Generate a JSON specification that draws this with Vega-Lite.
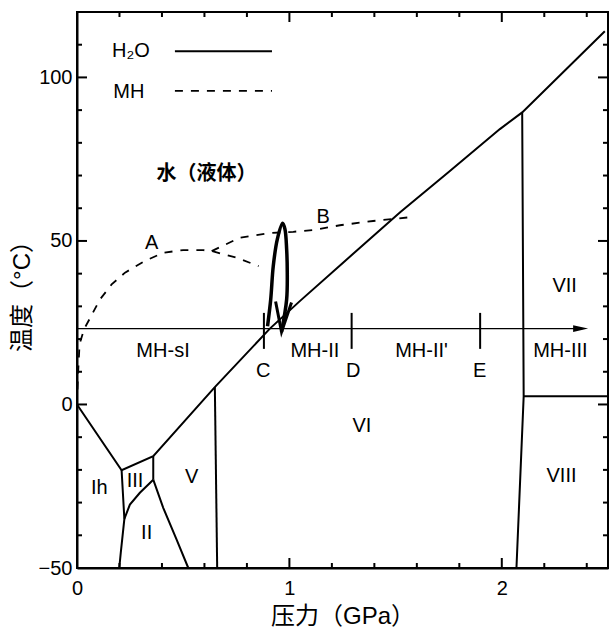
{
  "$schema": "https://vega.github.io/schema/vega-lite/v6.json",
  "width": 531,
  "height": 556,
  "autosize": {"type": "none"},
  "padding": {"left": 77, "top": 12, "right": 1, "bottom": 62},
  "background": "white",
  "config": {
    "view": {"stroke": "black", "strokeWidth": 2},
    "axis": {
      "grid": false,
      "domainColor": "black",
      "domainWidth": 2,
      "ticks": false,
      "labelFlush": false,
      "labelColor": "black",
      "labelFont": "Liberation Sans",
      "labelFontSize": 20,
      "titleColor": "black",
      "titleFont": "Liberation Sans, Noto Sans CJK SC",
      "titleFontSize": 24,
      "titleFontWeight": "normal"
    }
  },
  "datasets": {
    "phase": [
      {"s": "melt", "i": 0, "p": 0, "t": 0},
      {"s": "melt", "i": 1, "p": 0.21, "t": -20.1},
      {"s": "melt", "i": 2, "p": 0.359, "t": -15.8},
      {"s": "melt", "i": 3, "p": 0.649, "t": 5.3},
      {"s": "melt", "i": 4, "p": 0.908, "t": 23.2},
      {"s": "melt", "i": 5, "p": 1.049, "t": 31.6},
      {"s": "melt", "i": 6, "p": 1.25, "t": 43.2},
      {"s": "melt", "i": 7, "p": 1.52, "t": 58.7},
      {"s": "melt", "i": 8, "p": 1.75, "t": 71.1},
      {"s": "melt", "i": 9, "p": 1.991, "t": 84.2},
      {"s": "melt", "i": 10, "p": 2.096, "t": 89.3},
      {"s": "melt", "i": 11, "p": 2.485, "t": 114.1},
      {"s": "Ih-III-II", "i": 0, "p": 0.21, "t": -20.1},
      {"s": "Ih-III-II", "i": 1, "p": 0.223, "t": -35},
      {"s": "Ih-III-II", "i": 2, "p": 0.206, "t": -45.4},
      {"s": "Ih-III-II", "i": 3, "p": 0.199, "t": -50},
      {"s": "III-II", "i": 0, "p": 0.223, "t": -35},
      {"s": "III-II", "i": 1, "p": 0.249, "t": -30.6},
      {"s": "III-II", "i": 2, "p": 0.296, "t": -27.0},
      {"s": "III-II", "i": 3, "p": 0.359, "t": -23.0},
      {"s": "III-V", "i": 0, "p": 0.359, "t": -15.8},
      {"s": "III-V", "i": 1, "p": 0.359, "t": -23.0},
      {"s": "II-V", "i": 0, "p": 0.359, "t": -23.0},
      {"s": "II-V", "i": 1, "p": 0.406, "t": -31.6},
      {"s": "II-V", "i": 2, "p": 0.469, "t": -41.3},
      {"s": "II-V", "i": 3, "p": 0.524, "t": -50},
      {"s": "V-VI", "i": 0, "p": 0.649, "t": 5.3},
      {"s": "V-VI", "i": 1, "p": 0.66, "t": -50},
      {"s": "VI-VII-VIII", "i": 0, "p": 2.096, "t": 89.3},
      {"s": "VI-VII-VIII", "i": 1, "p": 2.103, "t": 2.5},
      {"s": "VI-VII-VIII", "i": 2, "p": 2.069, "t": -50},
      {"s": "VII-VIII", "i": 0, "p": 2.103, "t": 2.5},
      {"s": "VII-VIII", "i": 1, "p": 2.5, "t": 2.5}
    ],
    "mh": [
      {"s": "A", "i": 0, "p": 0.002, "t": 4.6},
      {"s": "A", "i": 1, "p": 0.006, "t": 10.7},
      {"s": "A", "i": 2, "p": 0.012, "t": 18.4},
      {"s": "A", "i": 3, "p": 0.033, "t": 23.0},
      {"s": "A", "i": 4, "p": 0.058, "t": 26.0},
      {"s": "A", "i": 5, "p": 0.108, "t": 32.1},
      {"s": "A", "i": 6, "p": 0.163, "t": 36.7},
      {"s": "A", "i": 7, "p": 0.226, "t": 40.3},
      {"s": "A", "i": 8, "p": 0.32, "t": 43.9},
      {"s": "A", "i": 9, "p": 0.406, "t": 46.4},
      {"s": "A", "i": 10, "p": 0.5, "t": 47.2},
      {"s": "A", "i": 11, "p": 0.594, "t": 47.2},
      {"s": "A", "i": 12, "p": 0.634, "t": 46.9},
      {"s": "A", "i": 13, "p": 0.751, "t": 44.9},
      {"s": "A", "i": 14, "p": 0.855, "t": 42.3},
      {"s": "B", "i": 0, "p": 0.634, "t": 46.9},
      {"s": "B", "i": 1, "p": 0.767, "t": 51.0},
      {"s": "B", "i": 2, "p": 0.908, "t": 52.4},
      {"s": "B", "i": 3, "p": 1.018, "t": 52.8},
      {"s": "B", "i": 4, "p": 1.12, "t": 53.4},
      {"s": "B", "i": 5, "p": 1.238, "t": 54.8},
      {"s": "B", "i": 6, "p": 1.394, "t": 56.1},
      {"s": "B", "i": 7, "p": 1.575, "t": 57.3}
    ],
    "loop": [
      {"i": 0, "p": 0.897, "t": 23.9},
      {"i": 1, "p": 0.912, "t": 32.1},
      {"i": 2, "p": 0.924, "t": 42.3},
      {"i": 3, "p": 0.943, "t": 50.5},
      {"i": 4, "p": 0.968, "t": 55.4},
      {"i": 5, "p": 0.979, "t": 53.6},
      {"i": 6, "p": 0.987, "t": 47.5},
      {"i": 7, "p": 0.99, "t": 40.3},
      {"i": 8, "p": 0.987, "t": 32.1},
      {"i": 9, "p": 0.963, "t": 22.2}
    ],
    "barb": [
      {"i": 0, "p": 0.935, "t": 31.5},
      {"i": 1, "p": 0.963, "t": 22.2},
      {"i": 2, "p": 1.01, "t": 31.2}
    ],
    "scan": [{"p": 0, "p2": 2.38, "t": 23.2}],
    "scanHead": [{"p": 2.371, "t": 23.2}],
    "stops": [
      {"pt": "C", "p": 0.88, "t": 17, "t2": 28},
      {"pt": "D", "p": 1.293, "t": 17, "t2": 28},
      {"pt": "E", "p": 1.898, "t": 17, "t2": 28}
    ],
    "labels": [
      {"txt": "A", "p": 0.351, "t": 49.5},
      {"txt": "B", "p": 1.159, "t": 57.2},
      {"txt": "MH-sI", "p": 0.405, "t": 16.2},
      {"txt": "C", "p": 0.877, "t": 10.2},
      {"txt": "MH-II", "p": 1.12, "t": 16.2},
      {"txt": "D", "p": 1.3, "t": 10.2},
      {"txt": "MH-II'", "p": 1.622, "t": 16.2},
      {"txt": "E", "p": 1.896, "t": 10.2},
      {"txt": "MH-III", "p": 2.276, "t": 16.2},
      {"txt": "VI", "p": 1.341, "t": -6.7},
      {"txt": "VII", "p": 2.296, "t": 36.1},
      {"txt": "VIII", "p": 2.281, "t": -22.0},
      {"txt": "V", "p": 0.54, "t": -22.1},
      {"txt": "Ih", "p": 0.105, "t": -25.4},
      {"txt": "III", "p": 0.273, "t": -23.5},
      {"txt": "II", "p": 0.328, "t": -39.3}
    ],
    "liquid": [{"txt": "水（液体）", "p": 0.61, "t": 70.4}],
    "keyText": [
      {"txt": "H₂O", "p": 0.165, "t": 108.0},
      {"txt": "MH", "p": 0.171, "t": 95.5}
    ],
    "keyLine": [
      {"k": "H₂O", "p": 0.461, "p2": 0.918, "t": 108.0},
      {"k": "MH", "p": 0.461, "p2": 0.918, "t": 95.9}
    ],
    "xMajor": [{"p": 1}, {"p": 2}],
    "xMinor": [{"p": 0.2}, {"p": 0.4}, {"p": 0.6}, {"p": 0.8}, {"p": 1.2}, {"p": 1.4}, {"p": 1.6}, {"p": 1.8}, {"p": 2.2}, {"p": 2.4}],
    "yMajor": [{"t": 0}, {"t": 50}, {"t": 100}],
    "yMinor": [{"t": -40}, {"t": -30}, {"t": -20}, {"t": -10}, {"t": 10}, {"t": 20}, {"t": 30}, {"t": 40}, {"t": 60}, {"t": 70}, {"t": 80}, {"t": 90}, {"t": 110}]
  },
  "resolve": {"axis": {"x": "independent", "y": "independent"}},
  "layer": [
    {
      "data": {"name": "phase"},
      "mark": {"type": "line", "color": "black", "strokeWidth": 2},
      "encoding": {
        "x": {"field": "p", "type": "quantitative", "scale": {"domain": [0, 2.5], "nice": false, "zero": false},
          "axis": {"orient": "bottom", "values": [0, 1, 2], "format": "d", "labelPadding": 10.5, "title": "压力（GPa）", "titlePadding": 6}},
        "y": {"field": "t", "type": "quantitative", "scale": {"domain": [-50, 120], "nice": false, "zero": false},
          "axis": {"orient": "left", "values": [-50, 0, 50, 100], "format": "d", "labelPadding": 5, "title": "温度（°C）", "titlePadding": 4}},
        "detail": {"field": "s"},
        "order": {"field": "i", "type": "quantitative"}
      }
    },
    {
      "data": {"name": "xMajor"},
      "mark": {"type": "rule", "color": "black", "strokeWidth": 2, "y2Offset": -10},
      "encoding": {
        "x": {"field": "p", "type": "quantitative", "scale": {"domain": [0, 2.5], "nice": false, "zero": false}, "axis": null},
        "y": {"datum": -50, "type": "quantitative", "scale": {"domain": [-50, 120], "nice": false, "zero": false}, "axis": null},
        "y2": {"datum": -50}
      }
    },
    {
      "data": {"name": "xMinor"},
      "mark": {"type": "rule", "color": "black", "strokeWidth": 2, "y2Offset": -5},
      "encoding": {
        "x": {"field": "p", "type": "quantitative", "scale": {"domain": [0, 2.5], "nice": false, "zero": false}, "axis": null},
        "y": {"datum": -50, "type": "quantitative", "scale": {"domain": [-50, 120], "nice": false, "zero": false}, "axis": null},
        "y2": {"datum": -50}
      }
    },
    {
      "data": {"name": "xMajor"},
      "mark": {"type": "rule", "color": "black", "strokeWidth": 2, "y2Offset": 10},
      "encoding": {
        "x": {"field": "p", "type": "quantitative", "scale": {"domain": [0, 2.5], "nice": false, "zero": false}, "axis": null},
        "y": {"datum": 120, "type": "quantitative", "scale": {"domain": [-50, 120], "nice": false, "zero": false}, "axis": null},
        "y2": {"datum": 120}
      }
    },
    {
      "data": {"name": "xMinor"},
      "mark": {"type": "rule", "color": "black", "strokeWidth": 2, "y2Offset": 5},
      "encoding": {
        "x": {"field": "p", "type": "quantitative", "scale": {"domain": [0, 2.5], "nice": false, "zero": false}, "axis": null},
        "y": {"datum": 120, "type": "quantitative", "scale": {"domain": [-50, 120], "nice": false, "zero": false}, "axis": null},
        "y2": {"datum": 120}
      }
    },
    {
      "data": {"name": "yMajor"},
      "mark": {"type": "rule", "color": "black", "strokeWidth": 2, "x2Offset": 10},
      "encoding": {
        "y": {"field": "t", "type": "quantitative", "scale": {"domain": [-50, 120], "nice": false, "zero": false}, "axis": null},
        "x": {"datum": 0, "type": "quantitative", "scale": {"domain": [0, 2.5], "nice": false, "zero": false}, "axis": null},
        "x2": {"datum": 0}
      }
    },
    {
      "data": {"name": "yMinor"},
      "mark": {"type": "rule", "color": "black", "strokeWidth": 2, "x2Offset": 5},
      "encoding": {
        "y": {"field": "t", "type": "quantitative", "scale": {"domain": [-50, 120], "nice": false, "zero": false}, "axis": null},
        "x": {"datum": 0, "type": "quantitative", "scale": {"domain": [0, 2.5], "nice": false, "zero": false}, "axis": null},
        "x2": {"datum": 0}
      }
    },
    {
      "data": {"name": "yMajor"},
      "mark": {"type": "rule", "color": "black", "strokeWidth": 2, "x2Offset": -10},
      "encoding": {
        "y": {"field": "t", "type": "quantitative", "scale": {"domain": [-50, 120], "nice": false, "zero": false}, "axis": null},
        "x": {"datum": 2.5, "type": "quantitative", "scale": {"domain": [0, 2.5], "nice": false, "zero": false}, "axis": null},
        "x2": {"datum": 2.5}
      }
    },
    {
      "data": {"name": "yMinor"},
      "mark": {"type": "rule", "color": "black", "strokeWidth": 2, "x2Offset": -5},
      "encoding": {
        "y": {"field": "t", "type": "quantitative", "scale": {"domain": [-50, 120], "nice": false, "zero": false}, "axis": null},
        "x": {"datum": 2.5, "type": "quantitative", "scale": {"domain": [0, 2.5], "nice": false, "zero": false}, "axis": null},
        "x2": {"datum": 2.5}
      }
    },
    {
      "data": {"name": "mh"},
      "mark": {"type": "line", "color": "black", "strokeWidth": 1.8, "strokeDash": [8, 8]},
      "encoding": {
        "x": {"field": "p", "type": "quantitative", "axis": null},
        "y": {"field": "t", "type": "quantitative", "axis": null},
        "detail": {"field": "s"},
        "order": {"field": "i", "type": "quantitative"}
      }
    },
    {
      "data": {"name": "loop"},
      "mark": {"type": "line", "color": "black", "strokeWidth": 3.5, "interpolate": "catmull-rom"},
      "encoding": {
        "x": {"field": "p", "type": "quantitative", "axis": null},
        "y": {"field": "t", "type": "quantitative", "axis": null},
        "order": {"field": "i", "type": "quantitative"}
      }
    },
    {
      "data": {"name": "barb"},
      "mark": {"type": "line", "color": "black", "strokeWidth": 3, "strokeJoin": "miter"},
      "encoding": {
        "x": {"field": "p", "type": "quantitative", "axis": null},
        "y": {"field": "t", "type": "quantitative", "axis": null},
        "order": {"field": "i", "type": "quantitative"}
      }
    },
    {
      "data": {"name": "scan"},
      "mark": {"type": "rule", "color": "black", "strokeWidth": 1.3},
      "encoding": {
        "x": {"field": "p", "type": "quantitative", "axis": null},
        "x2": {"field": "p2"},
        "y": {"field": "t", "type": "quantitative", "axis": null}
      }
    },
    {
      "data": {"name": "scanHead"},
      "mark": {"type": "point", "shape": "M -1 -0.45 L 1 0 L -1 0.45 Z", "filled": true, "size": 225, "color": "black", "opacity": 1},
      "encoding": {
        "x": {"field": "p", "type": "quantitative", "axis": null},
        "y": {"field": "t", "type": "quantitative", "axis": null}
      }
    },
    {
      "data": {"name": "stops"},
      "mark": {"type": "rule", "color": "black", "strokeWidth": 2},
      "encoding": {
        "x": {"field": "p", "type": "quantitative", "axis": null},
        "y": {"field": "t", "type": "quantitative", "axis": null},
        "y2": {"field": "t2"}
      }
    },
    {
      "data": {"name": "keyLine"},
      "mark": {"type": "rule", "color": "black", "strokeWidth": 1.8},
      "encoding": {
        "x": {"field": "p", "type": "quantitative", "axis": null},
        "x2": {"field": "p2"},
        "y": {"field": "t", "type": "quantitative", "axis": null},
        "strokeDash": {"field": "k", "type": "nominal", "scale": {"domain": ["H₂O", "MH"], "range": [[1, 0], [8, 8]]}, "legend": null}
      }
    },
    {
      "data": {"name": "labels"},
      "mark": {"type": "text", "font": "Liberation Sans", "fontSize": 20, "color": "black", "align": "center", "baseline": "middle"},
      "encoding": {
        "x": {"field": "p", "type": "quantitative", "axis": null},
        "y": {"field": "t", "type": "quantitative", "axis": null},
        "text": {"field": "txt"}
      }
    },
    {
      "data": {"name": "keyText"},
      "mark": {"type": "text", "font": "Liberation Sans", "fontSize": 20, "color": "black", "align": "left", "baseline": "middle"},
      "encoding": {
        "x": {"field": "p", "type": "quantitative", "axis": null},
        "y": {"field": "t", "type": "quantitative", "axis": null},
        "text": {"field": "txt"}
      }
    },
    {
      "data": {"name": "liquid"},
      "mark": {"type": "text", "font": "Noto Sans CJK SC", "fontSize": 20, "fontWeight": "bold", "color": "black", "align": "center", "baseline": "middle"},
      "encoding": {
        "x": {"field": "p", "type": "quantitative", "axis": null},
        "y": {"field": "t", "type": "quantitative", "axis": null},
        "text": {"field": "txt"}
      }
    }
  ]
}
